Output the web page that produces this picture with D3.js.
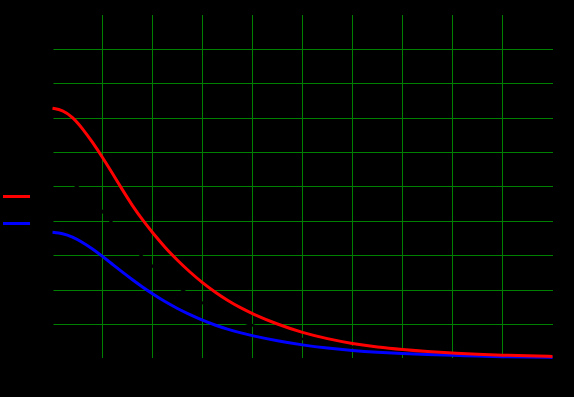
<!DOCTYPE html>
<html lang="en">
<head>
    <meta charset="utf-8">
    <title>D3: Decay curves</title>
    <script type="text/javascript" src="https://d3js.org/d3.v7.min.js"></script>
    <style>
        body { margin: 0; background: #000; }
    </style>
</head>
<body>
    <div id="chart"></div>

    <script type="text/javascript">

        // x positions of the samples
        var xValues = [0, 0.2, 0.4, 0.6, 0.8, 1, 1.2, 1.4, 1.6, 1.8, 2, 2.25, 2.5, 2.75, 3, 3.25, 3.5, 3.75, 4, 4.5, 5, 5.5, 6, 6.5, 7, 7.5, 8, 8.5, 9, 9.5, 10];

        // series
        var redValues = [7.29, 7.24, 7.04, 6.7, 6.3, 5.86, 5.39, 4.91, 4.45, 4.04, 3.67, 3.24, 2.86, 2.52, 2.21, 1.94, 1.7, 1.49, 1.31, 1.0, 0.76, 0.58, 0.44, 0.34, 0.27, 0.21, 0.17, 0.13, 0.105, 0.085, 0.07];
        var blueValues = [3.68, 3.65, 3.55, 3.39, 3.2, 2.98, 2.75, 2.52, 2.3, 2.09, 1.89, 1.66, 1.46, 1.28, 1.12, 0.98, 0.86, 0.76, 0.67, 0.52, 0.4, 0.31, 0.24, 0.19, 0.15, 0.12, 0.1, 0.08, 0.06, 0.05, 0.04];
        var blackValues = [5.3, 5.26, 5.12, 4.88, 4.6, 4.29, 3.94, 3.59, 3.26, 2.96, 2.69, 2.38, 2.1, 1.85, 1.62, 1.42, 1.25, 1.1, 0.97, 0.74, 0.57, 0.43, 0.33, 0.26, 0.2, 0.16, 0.13, 0.1, 0.08, 0.065, 0.05];

        var seriesNames = ["red", "blue", "black"];
        var seriesColors = ["#ff0000", "#0000ff", "#000000"];

        var xTicks = [0, 1, 2, 3, 4, 5, 6, 7, 8, 9, 10];
        var yTicks = [0, 1, 2, 3, 4, 5, 6, 7, 8, 9, 10];

        // Set up the SVG dimensions
        var svgWidth = 574;
        var svgHeight = 397;

        var svg = d3.select("#chart").append("svg")
            .attr("width", svgWidth)
            .attr("height", svgHeight)
            .style("display", "block")
            .style("background", "#000");

        var xScale = d3.scaleLinear().domain([0, 10]).range([52.5, 552.5]);
        var yScale = d3.scaleLinear().domain([0, 10]).range([358.8, 15.05]);

        // grid lines (interior only)
        var grid = svg.append("g").attr("shape-rendering", "crispEdges");

        grid.selectAll("line.vgrid")
            .data(xTicks.slice(1, -1))
            .enter().append("line")
            .attr("class", "vgrid")
            .attr("x1", function(d) { return xScale(d); })
            .attr("x2", function(d) { return xScale(d); })
            .attr("y1", 15)
            .attr("y2", 358)
            .attr("stroke", "#008000")
            .attr("stroke-width", 1);

        grid.selectAll("line.hgrid")
            .data(yTicks.slice(1, -1))
            .enter().append("line")
            .attr("class", "hgrid")
            .attr("x1", 53)
            .attr("x2", 553)
            .attr("y1", function(d) { return Math.floor(yScale(d)) + 0.5; })
            .attr("y2", function(d) { return Math.floor(yScale(d)) + 0.5; })
            .attr("stroke", "#008000")
            .attr("stroke-width", 1);

        // axes in black (same as the background)
        svg.append("g")
            .attr("transform", "translate(0," + yScale(0) + ")")
            .call(d3.axisBottom(xScale).tickValues(xTicks))
            .call(function(g) {
                g.selectAll("path,line").attr("stroke", "#000");
                g.selectAll("text").attr("fill", "#000");
            });

        svg.append("g")
            .attr("transform", "translate(" + xScale(0) + ",0)")
            .call(d3.axisLeft(yScale).tickValues(yTicks))
            .call(function(g) {
                g.selectAll("path,line").attr("stroke", "#000");
                g.selectAll("text").attr("fill", "#000");
            });

        // lines, black first so the coloured ones sit on top
        var allSeries = [redValues, blueValues, blackValues];
        var drawOrder = [2, 1, 0];

        var line = d3.line()
            .x(function(d, i) { return xScale(xValues[i]); })
            .y(function(d) { return yScale(d); })
            .curve(d3.curveBasis);

        drawOrder.forEach(function(k) {
            svg.append("path")
                .datum(allSeries[k])
                .attr("d", line)
                .attr("fill", "none")
                .attr("stroke", seriesColors[k])
                .attr("stroke-width", k === 2 ? 2.5 : 3);
        });

        // legend
        var legend = svg.append("g");

        legend.selectAll("line")
            .data(seriesNames)
            .enter().append("line")
            .attr("x1", 3)
            .attr("x2", 30)
            .attr("y1", function(d, i) { return 196.5 + i * 27; })
            .attr("y2", function(d, i) { return 196.5 + i * 27; })
            .attr("stroke", function(d, i) { return seriesColors[i]; })
            .attr("stroke-width", 3);

        legend.selectAll("text")
            .data(seriesNames)
            .enter().append("text")
            .attr("x", 4)
            .attr("y", function(d, i) { return 208 + i * 27; })
            .text(function(d) { return d; })
            .style("font-family", "DejaVu Sans")
            .style("font-size", "8px")
            .style("fill", "#000");

    </script>
</body>
</html>
